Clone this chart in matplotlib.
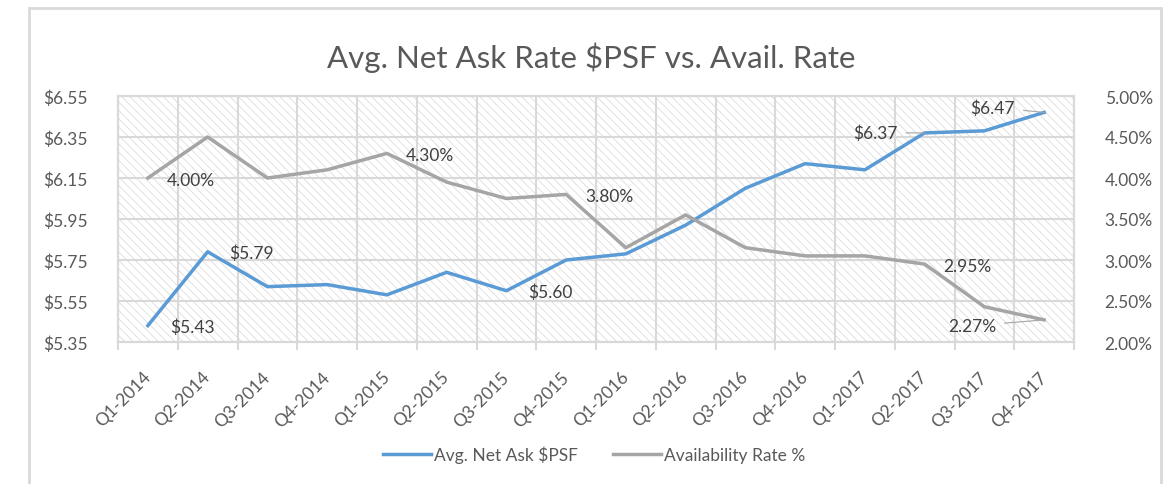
import matplotlib
matplotlib.use("Agg")
import matplotlib.pyplot as plt
import numpy as np
from matplotlib.patches import Rectangle
from matplotlib.ticker import FuncFormatter

# Datos
trimestres = ['Q1-2014', 'Q2-2014', 'Q3-2014', 'Q4-2014',
              'Q1-2015', 'Q2-2015', 'Q3-2015', 'Q4-2015',
              'Q1-2016', 'Q2-2016', 'Q3-2016', 'Q4-2016',
              'Q1-2017', 'Q2-2017', 'Q3-2017', 'Q4-2017']
net_ask = [5.43, 5.79, 5.62, 5.63, 5.58, 5.69, 5.60, 5.75,
           5.78, 5.92, 6.10, 6.22, 6.19, 6.37, 6.38, 6.47]
avail_rate = [4.00, 4.50, 4.00, 4.10, 4.30, 3.95, 3.75, 3.80,
              3.15, 3.55, 3.15, 3.05, 3.05, 2.95, 2.43, 2.27]

# Etiquetas de datos que aparecen en el gráfico (índices)
ask_labels = [0, 1, 6, 13, 15]
rate_labels = [0, 4, 7, 13, 15]

azul = '#5B9BD5'
gris = '#A5A5A5'
texto = '#595959'
rejilla = '#D9D9D9'

plt.rcParams['font.family'] = ['Lato', 'DejaVu Sans']
plt.rcParams['hatch.linewidth'] = 0.5

fig = plt.figure(figsize=(11.64, 4.85), dpi=100)
ax = fig.add_axes([118 / 1164, 1 - 343 / 485, (1074 - 118) / 1164, (343 - 97) / 485])
ax2 = ax.twinx()

# Marco exterior del gráfico
fig.patches.append(Rectangle((29 / 1164, -0.05), (1161 - 29) / 1164, 1.05 - 9 / 485,
                             transform=fig.transFigure, fill=False,
                             edgecolor=rejilla, linewidth=2))

# Fondo rayado
ax.add_patch(Rectangle((0, 0), 1, 1, transform=ax.transAxes, facecolor='white',
                       edgecolor='#D6D6D6', hatch='\\\\\\\\', linewidth=0, zorder=0))

x = np.arange(len(trimestres))
ax.plot(x, net_ask, color=azul, linewidth=2.5, zorder=3, label='Avg. Net Ask $PSF')
ax2.plot(x, avail_rate, color=gris, linewidth=2.5, zorder=3, label='Availability Rate %')

ax.set_xlim(-0.5, len(trimestres) - 0.5)
ax.set_ylim(5.35, 6.55)
ax2.set_ylim(2.0, 5.0)
ax.set_yticks(np.arange(5.35, 6.56, 0.2))
ax2.set_yticks(np.arange(2.0, 5.01, 0.5))
ax.yaxis.set_major_formatter(FuncFormatter(lambda v, p: f'${v:.2f}'))
ax2.yaxis.set_major_formatter(FuncFormatter(lambda v, p: f'{v:.2f}%'))

# Ticks del eje x: marcas en los límites, etiquetas en los centros
ax.set_xticks(np.arange(-0.5, len(trimestres)), labels=[''] * (len(trimestres) + 1))
ax.set_xticks(x, labels=trimestres, minor=True)
ax.tick_params(axis='x', which='major', length=6, color=rejilla, width=1.5)
ax.tick_params(axis='x', which='minor', length=0, pad=23)
for lbl in ax.get_xticklabels(minor=True):
    lbl.set_rotation(45)
    lbl.set_rotation_mode('anchor')
    lbl.set_ha('right')
    lbl.set_va('center')
ax.tick_params(axis='x', which='minor', labelsize=12.5, labelcolor=texto)
ax.tick_params(axis='y', length=0, pad=22, labelsize=12.5, labelcolor=texto)
ax2.tick_params(axis='y', length=0, pad=22, labelsize=12.5, labelcolor=texto)

ax.grid(True, which='major', color=rejilla, linewidth=1.5)
ax.set_axisbelow(True)
for a in (ax, ax2):
    for s in a.spines.values():
        s.set_color(rejilla)
        s.set_linewidth(1.5)

# Etiquetas de datos
def etiqueta(a, i, valor, texto_lbl, dx, dy, ha, guia=False):
    props = dict(arrowstyle='-', color=gris, linewidth=0.8, shrinkA=4, shrinkB=0) if guia else None
    a.annotate(texto_lbl, (i, valor), xytext=(dx, dy), textcoords='offset pixels',
               ha=ha, va='center', fontsize=12.5, color='#404040', arrowprops=props, zorder=5)

for i in ask_labels:
    v = net_ask[i]
    if i == 13:
        etiqueta(ax, i, v, f'${v:.2f}', -27, 0, 'right', True)
    elif i == 15:
        etiqueta(ax, i, v, f'${v:.2f}', -29, 5, 'right', True)
    else:
        etiqueta(ax, i, v, f'${v:.2f}', 22, -1, 'left')

for i in rate_labels:
    v = avail_rate[i]
    if i == 15:
        etiqueta(ax2, i, v, f'{v:.2f}%', -48, -6, 'right', True)
    else:
        etiqueta(ax2, i, v, f'{v:.2f}%', 19, -2, 'left')

fig.text(591 / 1164, 1 - 58 / 485, 'Avg. Net Ask Rate $PSF vs. Avail. Rate',
         ha='center', va='center', fontsize=22.5, color=texto)

h1, l1 = ax.get_legend_handles_labels()
h2, l2 = ax2.get_legend_handles_labels()
fig.legend(h1 + h2, l1 + l2, loc='center', bbox_to_anchor=(594 / 1164, 1 - 455 / 485),
           ncol=2, frameon=False, fontsize=12.5, labelcolor=texto,
           handlelength=2.8, columnspacing=2.0, handletextpad=0.15)

fig.savefig('out.png', dpi=100)
